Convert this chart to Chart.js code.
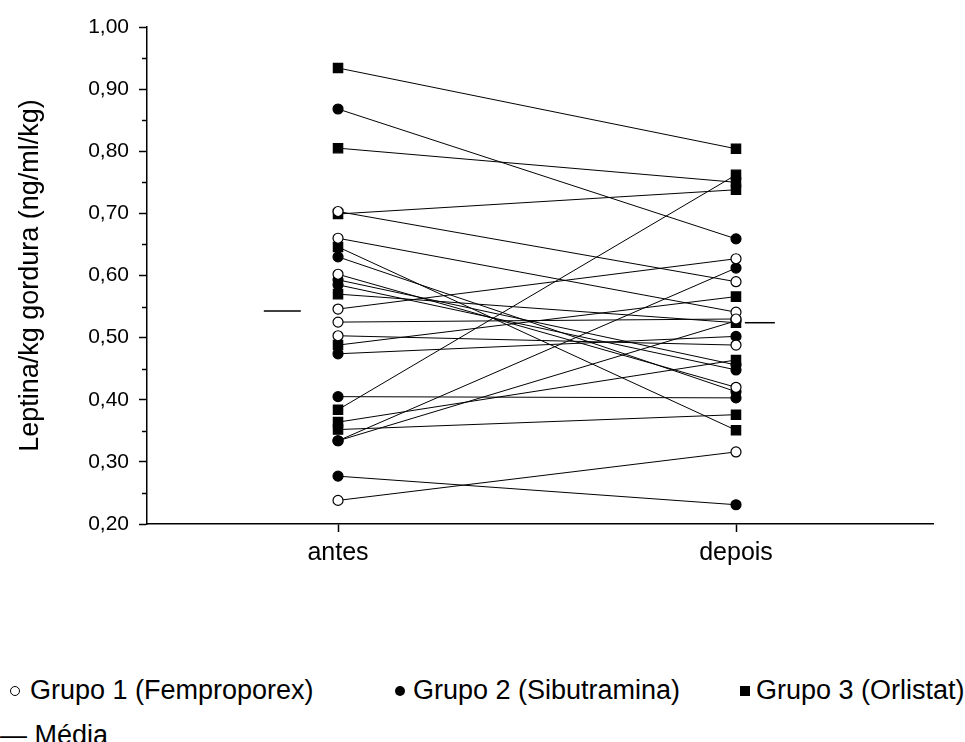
<!DOCTYPE html>
<html><head><meta charset="utf-8">
<script src="https://cdn.jsdelivr.net/npm/chart.js@4.4.0/dist/chart.umd.min.js"></script>
<style>
html,body{margin:0;padding:0;background:#fff;overflow:hidden;width:965px;height:742px}
#wrap{position:absolute;left:0;top:0;width:965px;height:600px}
.leg{position:absolute;font-family:"Liberation Sans",Arial,sans-serif;font-size:27px;color:#000;white-space:nowrap;line-height:1}
.mk{position:absolute;box-sizing:border-box}
</style>
</head><body>
<div id="wrap"><canvas id="c" width="965" height="600"></canvas></div>
<span class="mk" style="left:10px;top:686px;width:10px;height:10px;border:1.5px solid #000;border-radius:50%;background:#fff"></span>
<span class="leg" style="left:30px;top:677px">Grupo 1 (Femproporex)</span>
<span class="mk" style="left:395px;top:686px;width:10px;height:10px;border-radius:50%;background:#000"></span>
<span class="leg" style="left:413px;top:677px">Grupo 2 (Sibutramina)</span>
<span class="mk" style="left:740px;top:686px;width:10px;height:10px;background:#000"></span>
<span class="leg" style="left:756px;top:677px">Grupo 3 (Orlistat)</span>
<span class="leg" style="left:0px;top:722px">— Média</span>
<script>
const xLabels = ['antes', 'depois'];
const yTickValues = [0.2, 0.3, 0.4, 0.5, 0.6, 0.7, 0.8, 0.9, 1.0];

const g1Antes  = [0.703, 0.660, 0.602, 0.546, 0.525, 0.503, 0.238];
const g1Depois = [0.590, 0.541, 0.420, 0.627, 0.530, 0.488, 0.316];

const g2Antes  = [0.868, 0.630, 0.593, 0.585, 0.474, 0.405, 0.334, 0.334, 0.277];
const g2Depois = [0.659, 0.413, 0.456, 0.448, 0.502, 0.403, 0.612, 0.527, 0.231];

const g3Antes  = [0.934, 0.805, 0.699, 0.646, 0.570, 0.488, 0.384, 0.364, 0.352];
const g3Depois = [0.804, 0.750, 0.738, 0.351, 0.524, 0.566, 0.762, 0.464, 0.376];

const mediaValues = [0.543, 0.524];

const groups = [
  {antes: g1Antes, depois: g1Depois, style: 'circle', fill: '#ffffff', r: 5},
  {antes: g2Antes, depois: g2Depois, style: 'circle', fill: '#000000', r: 5},
  {antes: g3Antes, depois: g3Depois, style: 'rect', fill: '#000000', r: 6.6}
];

const datasets = [];
groups.forEach(g => {
  g.antes.forEach((a, i) => {
    datasets.push({
      type: 'line',
      data: [{x: 0, y: a}, {x: 1, y: g.depois[i]}],
      borderColor: '#000', borderWidth: 1, pointRadius: 0, fill: false,
      order: 3
    });
  });
});
groups.forEach(g => {
  datasets.push({
    type: 'scatter',
    data: g.antes.map(v => ({x: 0, y: v})).concat(g.depois.map(v => ({x: 1, y: v}))),
    pointStyle: g.style, pointRadius: g.r, pointBackgroundColor: g.fill,
    pointBorderColor: '#000', pointBorderWidth: 1.2, showLine: false,
    order: 2
  });
});
const mediaOffset = [-0.14, 0.06];
const mediaHalf = [18.5, 15];
datasets.push({
  type: 'scatter',
  data: mediaValues.map((v, i) => ({x: i + mediaOffset[i], y: v})),
  pointStyle: 'line', pointRadius: ctx => mediaHalf[ctx.dataIndex],
  pointBorderColor: '#000', pointBorderWidth: 1.5, showLine: false,
  order: 1
});

const minorTicks = {
  id: 'minorTicks',
  afterDraw(chart) {
    const y = chart.scales.y, ctx = chart.ctx;
    ctx.save();
    ctx.strokeStyle = '#000'; ctx.lineWidth = 1.5;
    for (let i = 0; i < yTickValues.length - 1; i++) {
      const v = (yTickValues[i] + yTickValues[i + 1]) / 2;
      const p = Math.round(y.getPixelForValue(v)) + 0.5;
      ctx.beginPath(); ctx.moveTo(y.right - 5, p); ctx.lineTo(y.right, p); ctx.stroke();
    }
    ctx.restore();
  }
};

new Chart(document.getElementById('c'), {
  type: 'scatter',
  data: {datasets},
  options: {
    responsive: false, animation: false,
    layout: {padding: {left: 0, top: 27, right: 32, bottom: 0}},
    plugins: {legend: {display: false}, tooltip: {enabled: false}},
    scales: {
      x: {
        type: 'linear', min: -0.48, max: 1.495,
        afterBuildTicks: s => { s.ticks = xLabels.map((l, i) => ({value: i})); },
        afterFit: s => { s.height = 76; },
        ticks: {callback: v => xLabels[v], color: '#000', padding: 6,
          font: {family: '"Liberation Sans", Arial, sans-serif', size: 25}},
        grid: {display: true, drawOnChartArea: false, drawTicks: true, tickLength: 8, tickColor: '#000', tickWidth: 1.5},
        border: {display: true, color: '#000', width: 1.5}
      },
      y: {
        type: 'linear', min: 0.2, max: 1.0,
        afterBuildTicks: s => { s.ticks = yTickValues.map(v => ({value: v})); },
        afterFit: s => { s.width = 147; },
        ticks: {callback: v => v.toFixed(2).replace('.', ','), color: '#000', padding: 10,
          font: {family: '"Liberation Sans", Arial, sans-serif', size: 21}},
        title: {display: true, text: 'Leptina/kg gordura (ng/ml/kg)', color: '#000',
          padding: {top: 14, bottom: 0},
          font: {family: '"Liberation Sans", Arial, sans-serif', size: 27}},
        grid: {display: true, drawOnChartArea: false, drawTicks: true, tickLength: 8, tickColor: '#000', tickWidth: 1.5},
        border: {display: true, color: '#000', width: 1.5}
      }
    }
  },
  plugins: [minorTicks]
});
</script>
</body></html>
